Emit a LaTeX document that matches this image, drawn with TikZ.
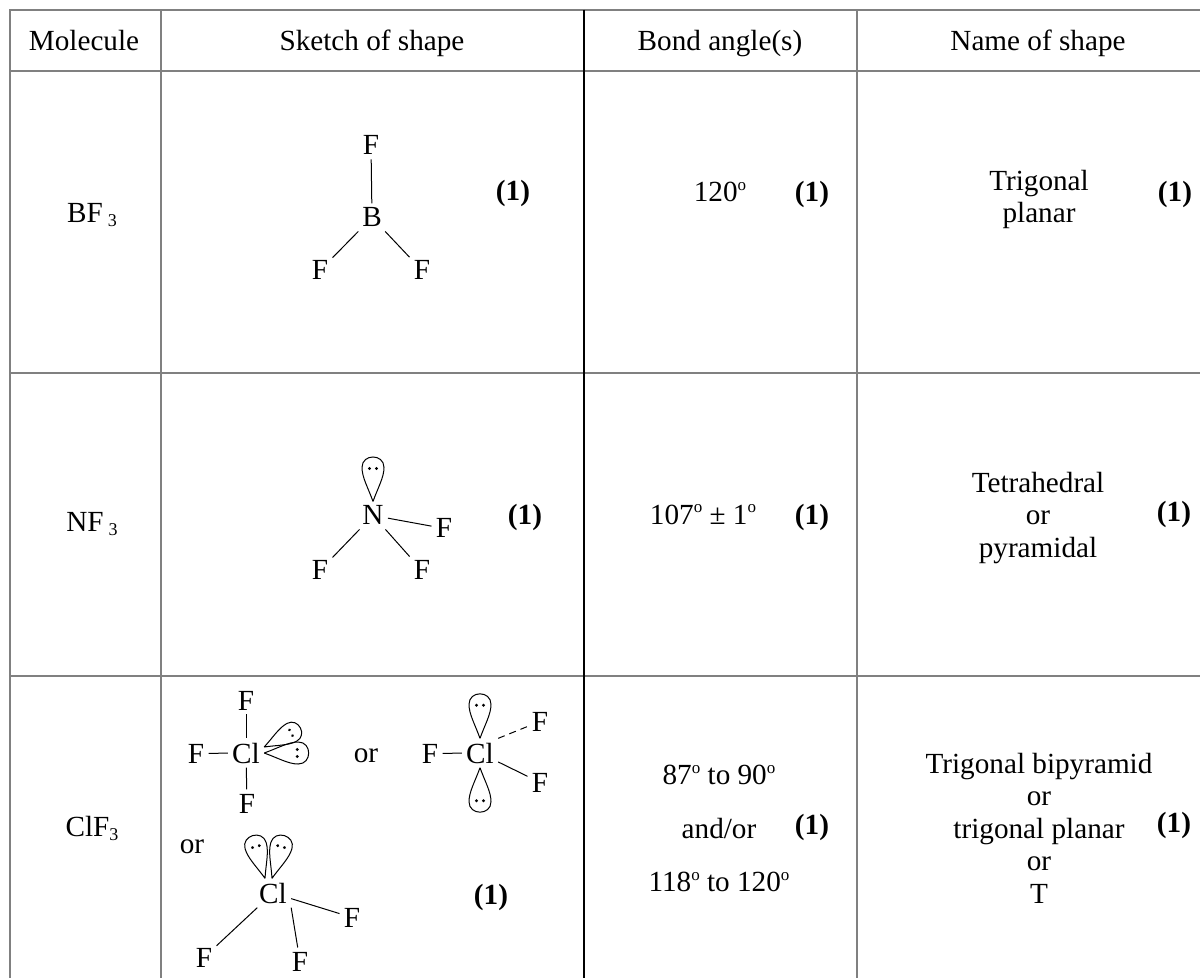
\documentclass[tikz,border=0pt]{standalone}
\usepackage{fontspec}
\setmainfont{Liberation Serif}
\newcommand\tsz{\fontsize{14.6}{16.25}\selectfont}
\newcommand\dg{\raisebox{5.6pt}{\fontsize{8.5}{8.5}\selectfont o}}
\newcommand\sub[1]{\raisebox{-2pt}{\fontsize{9}{9}\selectfont #1}}

\begin{document}
\begin{tikzpicture}[x=0.5pt,y=-0.5pt,
    every node/.style={inner sep=0pt,font=\tsz},
    txt/.style={anchor=base},
    atom/.style={anchor=base,inner sep=2pt},
    score/.style={anchor=base,font=\tsz\bfseries},
    tabline/.style={draw=gray,line width=0.9pt},
    bond/.style={line width=0.5pt},
    lobe/.pic={
        \draw[bond] (0,0) .. controls (-5,-14) and (-11,-24) .. (-11,-34)
            .. controls (-11,-48) and (11,-48) .. (11,-34)
            .. controls (11,-24) and (5,-14) .. (0,0);
        \fill (-3.5,-33) circle (0.8pt) (3.5,-33) circle (0.8pt);
    }]
    \useasboundingbox (0,0) rectangle (1200,978);
    \draw[tabline] (10,990) -- (10,10) -- (1210,10);
    \draw[tabline] (10,71) -- (1210,71);
    \draw[tabline] (10,373) -- (1210,373);
    \draw[tabline] (10,676) -- (1210,676);
    \draw[tabline] (161,10) -- (161,990);
    \draw[line width=0.6pt] (584,10) -- (584,990);
    \draw[tabline] (857,10) -- (857,990);

    \node[txt] (h1) at (84,51) {Molecule};
    \node[txt] (h2) at (372,51) {Sketch of shape};
    \node[txt] (h3) at (720,51) {Bond angle(s)};
    \node[txt] (h4) at (1038,51) {Name of shape};

    \node[txt] (m1) at (92,223) {BF\,\sub{3}};
    \node[atom] (b) at (372,227) {B};
    \node[atom] (fb1) at (371,155) {F};
    \node[atom] (fb2) at (320,280) {F};
    \node[atom] (fb3) at (422,280) {F};
    \draw[bond] (fb1) -- (b);
    \draw[bond] (b) -- (fb2);
    \draw[bond] (b) -- (fb3);
    \node[score] (s1) at (513,201) {(1)};
    \node[txt] (a1) at (720,202) {120\dg};
    \node[score] (s2) at (812,202) {(1)};
    \node[align=center] (n1) at (1039,199.5) {Trigonal\\planar};
    \node[score] (s3) at (1175,202) {(1)};

    \node[txt] (m2) at (92,531) {NF\,\sub{3}};
    \node[atom] (n) at (373,525) {N};
    \pic at (n.north) {lobe};
    \node[atom] (fn1) at (444,538) {F};
    \node[atom] (fn2) at (320,580) {F};
    \node[atom] (fn3) at (422,580) {F};
    \draw[bond] (n) -- (fn1);
    \draw[bond] (n) -- (fn2);
    \draw[bond] (n) -- (fn3);
    \node[score] (s4) at (525,524) {(1)};
    \node[txt] (a2) at (703,524) {107\dg\ ± 1\dg};
    \node[score] (s5) at (812,524) {(1)};
    \node[align=center] (n2) at (1038,517.7) {Tetrahedral\\or\\pyramidal};
    \node[score] (s6) at (1174,522) {(1)};

    \node[txt] (m3) at (92,836) {ClF\sub{3}};
    \node[atom] (cl1) at (246,763) {Cl};
    \node[atom] (fc1) at (246,710) {F};
    \node[atom] (fc2) at (196,763) {F};
    \node[atom] (fc3) at (247,813) {F};
    \draw[bond] (fc1) -- (cl1);
    \draw[bond] (fc2) -- (cl1);
    \draw[bond] (cl1) -- (fc3);
    \pic[rotate=-62,scale=0.92] at ([yshift=3pt]cl1.east) {lobe};
    \pic[rotate=-90] at (cl1.east) {lobe};
    \node[txt] (or1) at (366,762) {or};
    \node[atom] (cl2) at (480,763) {Cl};
    \node[atom] (fd1) at (430,763) {F};
    \node[atom] (fd2) at (540,731) {F};
    \node[atom] (fd3) at (540,792) {F};
    \draw[bond] (fd1) -- (cl2);
    \draw[bond,dash pattern=on 3.5pt off 2.5pt] (cl2.north east) -- (fd2);
    \draw[bond] (cl2) -- (fd3);
    \pic at (cl2.north) {lobe};
    \pic[rotate=180] at (cl2.south) {lobe};
    \node[txt] (or2) at (192,853) {or};
    \node[atom] (cl3) at (273,903) {Cl};
    \node[atom] (fe1) at (352,927) {F};
    \node[atom] (fe2) at (204,967) {F};
    \node[atom] (fe3) at (300,971) {F};
    \draw[bond] (cl3) -- (fe1);
    \draw[bond] (cl3) -- (fe2);
    \draw[bond] (cl3.south east) -- (fe3);
    \pic[rotate=16] at ([xshift=-4pt]cl3.north) {lobe};
    \pic[rotate=-16] at ([xshift=-0.5pt]cl3.north) {lobe};
    \node[score] (s7) at (491,904) {(1)};
    \node[align=center,font=\fontsize{14.6}{26.75}\selectfont] (a3) at (719,828.6) {87\dg\ to 90\dg\\and/or\\118\dg\ to 120\dg};
    \node[score] (s8) at (812,834) {(1)};
    \node[align=center] (n3) at (1039,828) {Trigonal bipyramid\\or\\trigonal planar\\or\\T};
    \node[score] (s9) at (1174,832) {(1)};
\end{tikzpicture}
\end{document}
